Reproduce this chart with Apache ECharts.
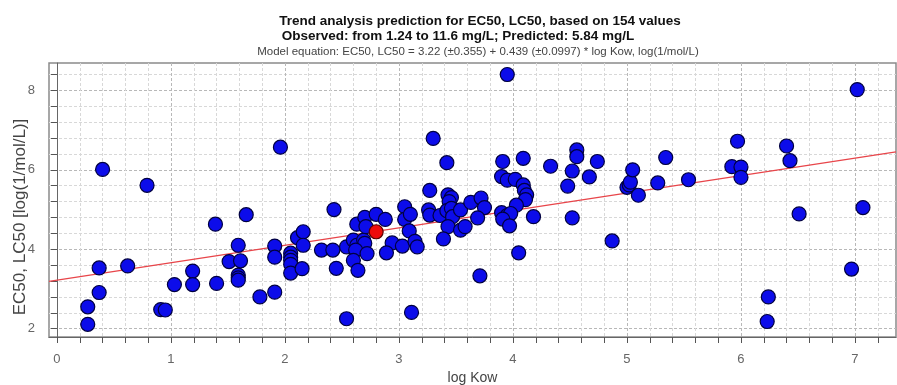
<!DOCTYPE html>
<html>
<head>
<meta charset="utf-8">
<script src="https://cdn.jsdelivr.net/npm/echarts@6/dist/echarts.min.js"></script>
<style>
  html, body { margin: 0; padding: 0; background: #fff; }
  #chart { width: 897px; height: 385px; }
</style>
</head>
<body>
<div id="chart"></div>
<script>
// observed values: log Kow (x) and EC50, LC50 in log(1/mol/L) (y)
var logKow = [
  0.27, 0.27, 0.37, 0.37, 0.40, 0.62, 0.79, 0.91, 0.95, 1.03,
  1.19, 1.19, 1.39, 1.40, 1.51, 1.59, 1.61, 1.59, 1.59, 1.59,
  1.66, 1.78, 1.91, 1.91, 1.91, 1.96, 2.05, 2.05, 2.05, 2.05,
  2.05, 2.11, 2.16, 2.16, 2.15, 2.32, 2.42, 2.43, 2.45, 2.54,
  2.54, 2.60, 2.63, 2.69, 2.70, 2.62, 2.72, 2.60, 2.64, 2.63,
  2.70, 2.71, 2.80, 2.88, 2.94, 2.89, 3.03, 3.05, 3.05, 3.10,
  3.09, 3.14, 3.16, 3.11, 3.27, 3.30, 3.26, 3.27, 3.36, 3.42,
  3.43, 3.46, 3.44, 3.42, 3.46, 3.47, 3.54, 3.43, 3.54, 3.58,
  3.39, 3.63, 3.72, 3.75, 3.69, 3.71, 3.95, 3.91, 4.09, 3.90,
  3.95, 4.02, 4.09, 4.10, 4.12, 4.11, 4.03, 3.90, 3.95, 3.98,
  3.91, 3.97, 4.05, 4.18, 4.33, 4.56, 4.56, 4.52, 4.48, 4.52,
  4.67, 4.74, 4.87, 5.00, 5.02, 5.03, 5.05, 5.10, 5.27, 5.34,
  5.54, 5.92, 6.00, 6.00, 5.97, 6.24, 6.23, 6.40, 6.43, 6.51,
  6.97, 7.02, 7.07
];
var ec50 = [
  2.11, 2.55, 2.91, 3.53, 6.01, 3.58, 5.61, 2.48, 2.47, 3.11,
  3.45, 3.11, 4.63, 3.14, 3.69, 4.10, 3.71, 3.35, 3.28, 3.22,
  4.87, 2.80, 4.08, 3.80, 2.92, 6.57, 3.90, 3.80, 3.72, 3.62,
  3.40, 4.29, 4.44, 4.10, 3.51, 3.98, 3.98, 5.00, 3.52, 2.25,
  4.06, 4.23, 4.10, 4.23, 4.15, 3.98, 3.89, 3.72, 3.47, 4.63,
  4.80, 4.57, 4.88, 4.75, 4.16, 3.91, 4.08, 5.07, 4.75, 4.88,
  4.46, 4.20, 4.06, 2.41, 5.48, 6.79, 4.99, 4.86, 4.85, 6.18,
  5.37, 5.30, 5.20, 4.97, 5.03, 4.82, 4.99, 4.57, 4.48, 4.57,
  4.26, 5.18, 5.29, 5.05, 4.79, 3.33, 8.40, 6.21, 6.29, 5.83,
  5.74, 5.76, 5.62, 5.48, 5.37, 5.25, 5.11, 4.92, 4.85, 4.90,
  4.76, 4.59, 3.91, 4.82, 6.09, 6.50, 6.33, 5.97, 5.59, 4.79,
  5.82, 6.21, 4.21, 5.56, 5.62, 5.69, 6.00, 5.36, 5.67, 6.31,
  5.75, 6.08, 6.07, 5.81, 6.72, 2.80, 2.18, 6.60, 6.23, 4.89,
  3.50, 8.02, 5.05
];

// predicted value
var predictedX = [2.80];
var predictedY = [4.44];

// trend line: EC50 = 3.22 + 0.439 * log Kow, ends at the plot edges
var trendX = [-0.07, 7.36];
var trendY = [3.19, 6.45];

var xLabelValues = [0, 1, 2, 3, 4, 5, 6, 7];
var yLabelValues = [2, 4, 6, 8];
var xGridValues = [0, 0.2, 0.4, 0.6, 0.8, 1, 1.2, 1.4, 1.6, 1.8, 2, 2.2, 2.4, 2.6, 2.8,
  3, 3.2, 3.4, 3.6, 3.8, 4, 4.2, 4.4, 4.6, 4.8, 5, 5.2, 5.4, 5.6, 5.8,
  6, 6.2, 6.4, 6.6, 6.8, 7, 7.2];
var yGridValues = [2, 2.4, 2.8, 3.2, 3.6, 4, 4.4, 4.8, 5.2, 5.6, 6, 6.4, 6.8, 7.2, 7.6, 8, 8.4];

var titleLine1 = 'Trend analysis prediction for EC50, LC50, based on 154 values';
var titleLine2 = 'Observed: from 1.24 to 11.6 mg/L; Predicted: 5.84 mg/L';
var titleLine3 = 'Model equation: EC50, LC50 = 3.22 (\u00b10.355) + 0.439 (\u00b10.0997) * log Kow, log(1/mol/L)';

var points = logKow.map(function (x, i) { return [x, ec50[i]] });
var predicted = predictedX.map(function (x, i) { return [x, predictedY[i]] });
var trend = trendX.map(function (x, i) { return [x, trendY[i]] });

// first colour for whole numbers, the rest for the minor lines between them
var gridColors = ['#b8b8b8', '#d8d8d8', '#d8d8d8', '#d8d8d8', '#d8d8d8'];
var font = 'Liberation Sans, Arial, sans-serif';

var chart = echarts.init(document.getElementById('chart'));
chart.setOption({
  animation: false,
  backgroundColor: '#fff',
  title: [
    {
      text: titleLine1, left: 475, top: 9, textAlign: 'center',
      textStyle: { fontFamily: font, fontSize: 13.5, fontWeight: 'bold', color: '#111' }
    },
    {
      text: titleLine2, left: 453, top: 24, textAlign: 'center',
      textStyle: { fontFamily: font, fontSize: 13.5, fontWeight: 'bold', color: '#111' }
    },
    {
      text: titleLine3, left: 473, top: 41, textAlign: 'center',
      textStyle: { fontFamily: font, fontSize: 11.5, fontWeight: 'normal', color: '#444' }
    }
  ],
  grid: {
    left: 49, right: 1, top: 63, bottom: 48,
    outerBoundsMode: 'none',
    containLabel: false,
    show: true, borderColor: '#8a8a8a', borderWidth: 1.5
  },
  xAxis: {
    type: 'value',
    min: -0.07,
    max: 7.36,
    name: 'log Kow',
    nameLocation: 'middle',
    nameGap: 34,
    nameMoveOverlap: false,
    nameTextStyle: { fontFamily: font, fontSize: 14, color: '#444' },
    axisLine: { show: true, lineStyle: { color: '#666' } },
    axisTick: { show: true, length: 6, customValues: xGridValues, lineStyle: { color: '#555' } },
    axisLabel: { customValues: xLabelValues, margin: 16, fontFamily: font, fontSize: 13, color: '#666' },
    splitLine: { show: true, lineStyle: { color: gridColors, type: [3, 2] } }
  },
  yAxis: {
    type: 'value',
    min: 1.79,
    max: 8.69,
    name: 'EC50, LC50 [log(1/mol/L)]',
    nameLocation: 'middle',
    nameGap: 20,
    nameMoveOverlap: false,
    nameTextStyle: { fontFamily: font, fontSize: 17, color: '#444', padding: [0, 34, 0, 0] },
    axisLine: { show: true, lineStyle: { color: '#666' } },
    axisTick: { show: true, length: 6, customValues: yGridValues, lineStyle: { color: '#555' } },
    axisLabel: { customValues: yLabelValues, margin: 14, fontFamily: font, fontSize: 13, color: '#666' },
    splitLine: { show: true, lineStyle: { color: gridColors, type: [3, 2] } }
  },
  series: [
    {
      name: 'trend',
      type: 'line',
      data: trend,
      symbol: 'none',
      z: 1,
      lineStyle: { color: '#e8454a', width: 1.2 }
    },
    {
      name: 'observed',
      type: 'scatter',
      data: points,
      symbolSize: 14,
      z: 2,
      itemStyle: { color: '#0c0cea', borderColor: '#000040', borderWidth: 1.2, opacity: 1 }
    },
    {
      name: 'predicted',
      type: 'scatter',
      data: predicted,
      symbolSize: 14,
      z: 3,
      itemStyle: { color: '#ee0a0a', borderColor: '#5a0000', borderWidth: 1.2, opacity: 1 }
    }
  ]
});
</script>
</body>
</html>
